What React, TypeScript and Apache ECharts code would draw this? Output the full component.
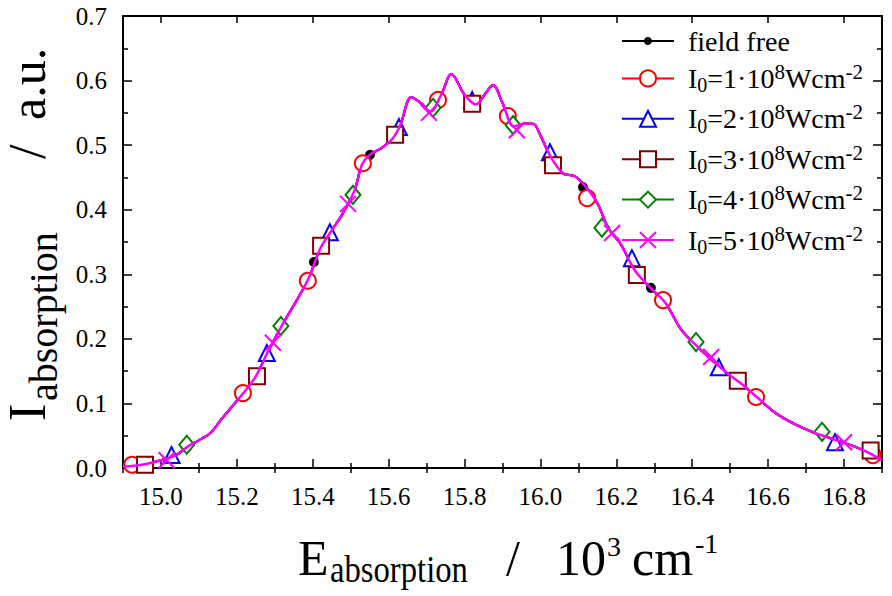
import React, { useEffect, useRef } from "react";
import * as echarts from "echarts";

// ---------- data ----------
const curveE = [14.9, 14.95, 15.0, 15.04, 15.07, 15.1, 15.13, 15.16, 15.19, 15.22, 15.25, 15.28, 15.3, 15.32, 15.36, 15.39, 15.42, 15.45, 15.48, 15.51, 15.53, 15.55, 15.58, 15.61, 15.63, 15.66, 15.685, 15.71, 15.74, 15.765, 15.8, 15.83, 15.855, 15.875, 15.9, 15.93, 15.955, 15.98, 16.0, 16.025, 16.06, 16.09, 16.12, 16.15, 16.18, 16.21, 16.25, 16.29, 16.33, 16.37, 16.41, 16.45, 16.49, 16.53, 16.57, 16.62, 16.67, 16.72, 16.77, 16.82, 16.86, 16.9];
const curveI = [0.002, 0.005, 0.012, 0.02, 0.033, 0.043, 0.054, 0.076, 0.097, 0.118, 0.142, 0.178, 0.2, 0.222, 0.262, 0.295, 0.34, 0.368, 0.395, 0.43, 0.47, 0.485, 0.495, 0.51, 0.53, 0.574, 0.565, 0.552, 0.58, 0.61, 0.578, 0.563, 0.58, 0.593, 0.565, 0.529, 0.533, 0.533, 0.515, 0.484, 0.456, 0.452, 0.435, 0.41, 0.37, 0.348, 0.305, 0.279, 0.255, 0.215, 0.19, 0.168, 0.148, 0.13, 0.11, 0.085, 0.068, 0.055, 0.045, 0.035, 0.025, 0.012];

const seriesNames = ["field free", "I0=1", "I0=2", "I0=3", "I0=4", "I0=5"];
const seriesColors = ["#000000", "#ff0000", "#0000ff", "#800000", "#007f00", "#ff00ff"];

const markFF = [[15.403, 0.319], [15.551, 0.485], [16.112, 0.435], [16.291, 0.279]];
const mark1 = [[14.924, 0.005], [15.216, 0.116], [15.387, 0.29], [15.532, 0.472], [15.73, 0.57], [15.914, 0.545], [16.123, 0.418], [16.323, 0.26], [16.568, 0.11], [16.876, 0.02]];
const mark2 = [[15.028, 0.02], [15.279, 0.178], [15.445, 0.365], [15.627, 0.528], [15.82, 0.57], [16.025, 0.489], [16.241, 0.325], [16.47, 0.156], [16.776, 0.04]];
const mark3 = [[14.958, 0.005], [15.253, 0.142], [15.422, 0.344], [15.617, 0.516], [15.82, 0.564], [16.033, 0.469], [16.254, 0.299], [16.52, 0.135], [16.87, 0.027]];
const mark4 = [[15.068, 0.036], [15.316, 0.22], [15.506, 0.423], [15.717, 0.558], [15.928, 0.531], [16.162, 0.372], [16.41, 0.195], [16.742, 0.056]];
const mark5 = [[15.015, 0.012], [15.295, 0.194], [15.493, 0.409], [15.706, 0.55], [15.938, 0.523], [16.189, 0.364], [16.45, 0.172], [16.8, 0.04]];
const markers = [markFF, mark1, mark2, mark3, mark4, mark5];

const xMajorTicks = [15.0, 15.2, 15.4, 15.6, 15.8, 16.0, 16.2, 16.4, 16.6, 16.8];
const xMinorTicks = [14.9, 15.1, 15.3, 15.5, 15.7, 15.9, 16.1, 16.3, 16.5, 16.7, 16.9];

const FONT = "Liberation Serif";

const X_PATH = "path://M0,0L10,10M10,0L0,10";
const DOT_LEGEND_PATH = "path://M0,0M22,22M7,11a4,4 0 1,0 8,0a4,4 0 1,0 -8,0z";

const legendSymbols = [DOT_LEGEND_PATH, "emptyCircle", "emptyTriangle", "emptyRect", "emptyDiamond", X_PATH];
const plotSymbols = ["circle", "emptyCircle", "emptyTriangle", "emptyRect", "emptyDiamond", X_PATH];
const plotSizes = [8, 16, 16, 16, [15, 18], 16];

function legendRich(name: string) {
  if (name === "field free") return "{m|field free}";
  const n = name.slice(3);
  return `{m|I}{sub|0}{m|=${n}·10}{sup|8}{m|Wcm}{sup|-2}`;
}

const base = (F: number) => 0.3375 * F;

export default function App() {
  const ref = useRef<HTMLDivElement>(null);
  useEffect(() => {
    if (!ref.current) return;
    const chart = echarts.init(ref.current, undefined, { renderer: "svg" });
    const curve = curveE.map((e, i) => [e, curveI[i]]);

    const lineSeries: any[] = seriesNames.map((name, i) => ({
      type: "line",
      name,
      data: curve,
      smooth: 0.35,
      showSymbol: false,
      symbol: legendSymbols[i],
      symbolSize: 16,
      z: i === 5 ? 4 : 2,
      lineStyle: { color: seriesColors[i], width: i === 5 ? 2.5 : 2 },
      itemStyle: { color: seriesColors[i], borderColor: seriesColors[i], borderWidth: 2 },
      silent: true,
    }));
    const markSeries: any[] = seriesNames.map((name, i) => ({
      type: "scatter",
      name,
      data: markers[i],
      symbol: plotSymbols[i],
      symbolSize: plotSizes[i],
      z: 3,
      itemStyle: { color: seriesColors[i], borderColor: seriesColors[i], borderWidth: 2, opacity: 1 },
      silent: true,
    }));

    const xTitle = [
      { text: "E", x: 298, B: 575, F: 50, sx: 1 },
      { text: "absorption", x: 330, B: 582, F: 38, sx: 0.86 },
      { text: "/", x: 506, B: 575, F: 50, sx: 1 },
      { text: "10", x: 556, B: 575, F: 50, sx: 1 },
      { text: "3", x: 607, B: 556, F: 28, sx: 1 },
      { text: "cm", x: 632, B: 575, F: 50, sx: 1 },
      { text: "-1", x: 695, B: 553, F: 28, sx: 1 },
    ];
    const yTitle = [
      { text: "I", x: 0, B: 45, F: 52, sx: 1 },
      { text: "absorption", x: 20, B: 57, F: 40, sx: 1 },
      { text: "/", x: 262, B: 45, F: 52, sx: 1 },
      { text: "a.u.", x: 301, B: 45, F: 50, sx: 1 },
    ];

    const mkText = (p: any) => ({
      type: "text",
      x: p.x,
      y: p.B - base(p.F),
      scaleX: p.sx,
      silent: true,
      style: { text: p.text, fill: "#000", font: `${p.F}px ${FONT}`, lineHeight: p.F, align: "left", verticalAlign: "middle" },
    });

    const axisCommon = {
      type: "value",
      min: 14.9,
      max: 16.9,
      splitLine: { show: false },
      axisLabel: { show: false },
      axisLine: { show: false },
    };
    const tickLine = { color: "#000", width: 1.5 };

    chart.setOption({
      animation: false,
      backgroundColor: "#ffffff",
      textStyle: { fontFamily: FONT, color: "#000" },
      grid: { left: 123, right: 10, top: 16, bottom: 128, containLabel: false },
      xAxis: [
        {
          ...axisCommon,
          position: "bottom",
          axisLine: { show: true, onZero: false, lineStyle: { color: "#000", width: 2 } },
          axisTick: { show: true, inside: true, length: 9, customValues: xMajorTicks, lineStyle: tickLine },
          axisLabel: {
            show: true,
            customValues: xMajorTicks,
            formatter: (v: number) => v.toFixed(1),
            margin: 16,
            color: "#000",
            fontFamily: FONT,
            fontSize: 25,
          },
        },
        {
          ...axisCommon,
          position: "bottom",
          axisTick: { show: true, inside: true, length: 5, customValues: xMinorTicks, lineStyle: tickLine },
        },
        {
          ...axisCommon,
          position: "top",
          axisLine: { show: true, onZero: false, lineStyle: { color: "#000", width: 2 } },
          axisTick: { show: true, inside: true, length: 7, customValues: xMajorTicks, lineStyle: tickLine },
        },
        {
          ...axisCommon,
          position: "top",
          axisTick: { show: true, inside: true, length: 5, customValues: xMinorTicks, lineStyle: tickLine },
        },
      ],
      yAxis: [
        {
          type: "value",
          min: 0,
          max: 0.7,
          interval: 0.1,
          position: "left",
          splitLine: { show: false },
          axisLine: { show: true, onZero: false, lineStyle: { color: "#000", width: 2 } },
          axisTick: { show: true, inside: true, length: 9, lineStyle: tickLine },
          minorTick: { show: true, splitNumber: 2, length: 5, lineStyle: tickLine },
          axisLabel: { formatter: (v: number) => v.toFixed(1), margin: 16, color: "#000", fontFamily: FONT, fontSize: 25 },
        },
        {
          type: "value",
          min: 0,
          max: 0.7,
          interval: 0.1,
          position: "right",
          splitLine: { show: false },
          axisLine: { show: true, onZero: false, lineStyle: { color: "#000", width: 2 } },
          axisTick: { show: true, inside: true, length: 9, lineStyle: tickLine },
          minorTick: { show: true, splitNumber: 2, length: 5, lineStyle: tickLine },
          axisLabel: { show: false },
        },
      ],
      legend: {
        left: 621,
        top: 27,
        orient: "vertical",
        padding: 0,
        itemGap: 6.4,
        itemWidth: 52,
        itemHeight: 20,
        selectedMode: false,
        data: seriesNames,
        formatter: legendRich,
        textStyle: {
          color: "#000",
          fontFamily: FONT,
          fontSize: 28,
          padding: [0, 0, 0, 9],
          rich: {
            m: { fontFamily: FONT, fontSize: 28, lineHeight: 34, color: "#000" },
            sub: { fontFamily: FONT, fontSize: 20, lineHeight: 12, verticalAlign: "bottom", color: "#000" },
            sup: { fontFamily: FONT, fontSize: 21, lineHeight: 17.4, verticalAlign: "top", color: "#000" },
          },
        },
      },
      graphic: [
        { type: "group", children: xTitle.map(mkText) },
        { type: "group", x: 0, y: 421, rotation: Math.PI / 2, children: yTitle.map(mkText) },
      ],
      series: [...lineSeries, ...markSeries],
    });
    return () => chart.dispose();
  }, []);
  return <div ref={ref} style={{ position: "absolute", left: 0, top: 0, width: 892, height: 596, background: "#fff" }} />;
}
